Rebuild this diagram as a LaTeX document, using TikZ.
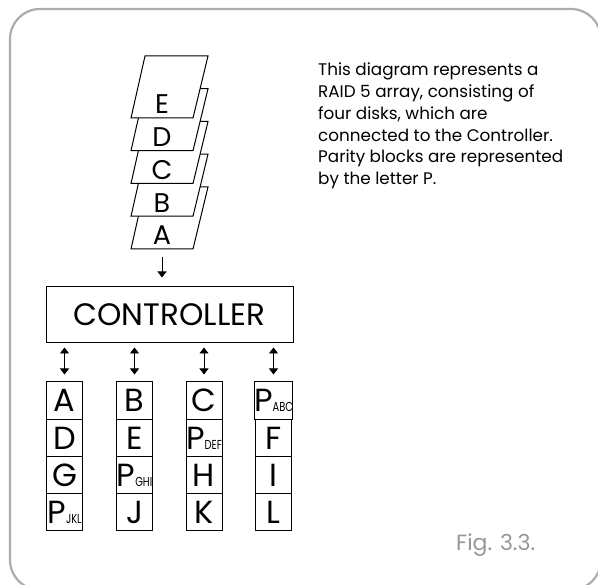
\documentclass[tikz,border=0pt]{standalone}
\usepackage{fontspec}
\usepackage{graphicx}
\setmainfont{Poppins}
\usetikzlibrary{arrows.meta}

\definecolor{framegray}{RGB}{172,172,176}
\definecolor{figgray}{RGB}{150,150,155}

\tikzset{
  sheet/.style={draw=black, line width=1pt, fill=white},
  cell/.style={draw=black, line width=1pt, minimum width=36pt, minimum height=37.25pt,
    inner sep=0pt, font=\fontsize{32}{32}\selectfont},
  link/.style={line width=0.9pt, -{Triangle[length=6pt,width=9pt]}},
  duplex/.style={line width=0.9pt, {Triangle[length=6pt,width=9pt]}-{Triangle[length=6pt,width=9pt]}},
}
\newcommand{\parity}[1]{P\scalebox{0.76}[1]{\fontsize{13}{13}\selectfont #1}}

\begin{document}
\begin{tikzpicture}[x=1pt, y=-1pt]
    \useasboundingbox (0,0) rectangle (598,585);

    % Outer frame
    \draw[framegray, line width=2.2pt, rounded corners=30pt] (10,9) rectangle (601,590);

    % Stack of data blocks, A at the back, E in front
    \foreach \lbl [count=\k from 0] in {A,B,C,D,E} {
        \pgfmathsetmacro{\yb}{249-32.75*\k}
        \draw[sheet] (131,\yb) -- (193,\yb) -- (208,\yb-62) -- (145,\yb-62) -- cycle;
        \node[font=\fontsize{27}{27}\selectfont, inner sep=0pt] (sheet\lbl) at (162,\yb-13.5) {\lbl};
    }
    \coordinate (stackbottom) at (162,249);

    % Controller
    \node[draw=black, line width=1pt, minimum width=247pt, minimum height=56pt,
          font=\fontsize{31}{31}\selectfont] (ctrl) at (169.5,315) {CONTROLLER};
    \draw[link, shorten <=8pt, shorten >=9pt] (stackbottom) -- (stackbottom |- ctrl.north);

    % The four disks
    \foreach \col/\cx/\ra/\rb/\rc/\rd in {1/64.5/A/D/G/\parity{JKL},
                                          2/134.5/B/E/\parity{GHI}/J,
                                          3/204/C/\parity{DEF}/H/K,
                                          4/273.5/\parity{ABC}/F/I/L} {
        \foreach \txt [count=\r] in {\ra,\rb,\rc,\rd}
            \node[cell] (c\col-\r) at (\cx,{382+37.25*(\r-0.5)}) {\txt};
        \draw[duplex, shorten <=4pt, shorten >=7pt] (ctrl.south -| c\col-1.north) -- (c\col-1.north);
    }

    % Explanation
    \node[anchor=north west, align=left, inner sep=0pt,
          font=\fontsize{16.8}{21.7}\selectfont] (note) at (318,63)
        {This diagram represents a\\
         RAID 5 array, consisting of\\
         four disks, which are\\
         connected to the Controller.\\
         Parity blocks are represented\\
         by the letter P.};

    \node[anchor=base west, inner sep=0pt, text=figgray,
          font=\fontsize{22}{22}\selectfont] (fig) at (456,551) {Fig. 3.3.};
\end{tikzpicture}
\end{document}
